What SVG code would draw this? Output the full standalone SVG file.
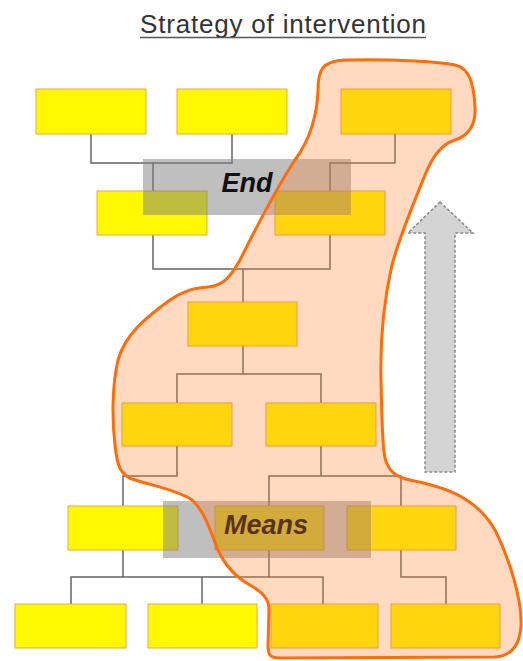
<svg xmlns="http://www.w3.org/2000/svg" width="523" height="661" viewBox="0 0 523 661">
<style>
.box{fill:#FFF800;stroke:#E8A848;stroke-width:1}
.conn{fill:none;stroke:#666;stroke-width:1.5;stroke-linejoin:miter}
.band{fill:#808080;fill-opacity:0.5}
.lbl{font-family:"Liberation Sans",Arial,sans-serif;font-weight:bold;font-style:italic;font-size:27px;fill:#111;text-anchor:middle}
</style>
<rect width="523" height="661" fill="#fff"/>
<g id="title">
<text x="140" y="33" font-family="Liberation Sans, Arial, sans-serif" font-size="26" fill="#333" textLength="286" lengthAdjust="spacing">Strategy of intervention</text>
<line x1="140" y1="37.5" x2="426" y2="37.5" stroke="#555" stroke-width="1.5"/>
</g>
<g id="arrow">
<polygon points="440,202 473,233 455,233 455,472 425,472 425,233 408,233" fill="#D4D4D4" stroke="#888" stroke-width="1.5" stroke-dasharray="3 2"/>
</g>
<g id="connectors">
<path class="conn" d="M91,134 V163 H232 V134 M153,163 V191"/>
<path class="conn" d="M395,134 V163 H330 V191"/>
<path class="conn" d="M153,235 V269 H330 V235 M243,269 V302"/>
<path class="conn" d="M243,346 V374 M177,403 V374 H321 V403"/>
<path class="conn" d="M177,446 V476 H123 V506"/>
<path class="conn" d="M321,446 V476 M269,506 V476 H401 V506"/>
<path class="conn" d="M123,550 V577 M269,550 V577 M71,604 V577 H323 V604 M202,577 V604"/>
<path class="conn" d="M401,550 V577 H446 V604"/>
</g>
<g id="n1"><rect class="box" x="36" y="89" width="110" height="45"/></g>
<g id="n2"><rect class="box" x="177" y="89" width="110" height="45"/></g>
<g id="n3"><rect class="box" x="341" y="89" width="110" height="45"/></g>
<g id="n4"><rect class="box" x="97" y="191" width="110" height="44"/></g>
<g id="n5"><rect class="box" x="275" y="191" width="110" height="44"/></g>
<g id="n6"><rect class="box" x="188" y="302" width="109" height="44"/></g>
<g id="n7"><rect class="box" x="122" y="403" width="110" height="43"/></g>
<g id="n8"><rect class="box" x="266" y="403" width="110" height="43"/></g>
<g id="n9"><rect class="box" x="68" y="506" width="110" height="44"/></g>
<g id="n10"><rect class="box" x="215" y="506" width="109" height="44"/></g>
<g id="n11"><rect class="box" x="347" y="506" width="109" height="44"/></g>
<g id="n12"><rect class="box" x="15" y="604" width="111" height="44"/></g>
<g id="n13"><rect class="box" x="148" y="604" width="109" height="44"/></g>
<g id="n14"><rect class="box" x="271" y="604" width="107" height="44"/></g>
<g id="n15"><rect class="box" x="391" y="604" width="109" height="44"/></g>
<g id="end">
<rect class="band" x="143" y="159" width="208" height="56"/>
<text class="lbl" x="247" y="192">End</text>
</g>
<g id="means">
<rect class="band" x="163" y="501" width="208" height="57"/>
<text class="lbl" x="266" y="534">Means</text>
</g>
<g id="strategy">
<path d="M318,90 C318,70 322,61 345,60 C400,59 440,62 455,65 C470,68 474,85 475,108 C476,125 468,136 455,140 C440,145 432,158 425,175 C415,200 400,235 392,265 C384,300 380,340 381,380 C382,420 382,445 385,458 C388,470 395,477 410,480 C440,486 475,495 495,530 C510,560 522,600 521,625 C520,645 512,656 495,657 L280,658 C270,658 268,655 268,645 L269,610 C269,598 262,592 250,585 C235,577 225,565 218,550 C210,530 205,512 192,500 C178,490 150,485 135,480 C120,476 117,465 115,445 C112,420 112,385 118,360 C125,335 145,318 170,300 C185,290 195,288 208,287 C222,286 230,278 240,260 C255,230 275,190 295,160 C308,142 317,120 318,90 Z" fill="#FF8430" fill-opacity="0.3" stroke="#FF6E0A" stroke-width="3"/>
</g>
</svg>
